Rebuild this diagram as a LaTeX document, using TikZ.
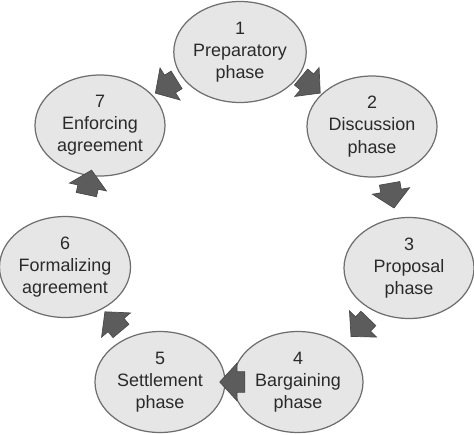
\documentclass[tikz,border=0pt]{standalone}
\usepackage{fontspec}
\setmainfont{Liberation Sans}
\usetikzlibrary{shapes.geometric,shapes.arrows}
\definecolor{phasefill}{HTML}{E6E6E6}
\definecolor{phaseline}{HTML}{6E6E6E}
\definecolor{flowfill}{HTML}{5C5C5C}
\definecolor{phasetext}{HTML}{2A2A2A}
\begin{document}
\begin{tikzpicture}[
        phase/.style = {draw=phaseline, line width=0.7pt, fill=phasefill, ellipse,
            minimum width=2.6cm, minimum height=2.02cm, inner sep=0pt,
            align=center, text=phasetext, font=\fontsize{10.2}{12.6}\selectfont},
        flow/.style = {single arrow, draw=flowfill!80!black, line width=0.4pt, fill=flowfill,
            minimum height=0.5cm, minimum width=0.74cm, inner xsep=0pt, inner ysep=0.2cm,
            single arrow head extend=0.17cm, single arrow tip angle=95}]
        \useasboundingbox (0,0) rectangle (9.48,8.68);
        % phases
        \node[phase] (p1) at (4.80,7.64) {1\\Preparatory\\phase};
        \node[phase] (p2) at (7.44,6.15) {2\\Discussion\\phase};
        \node[phase] (p3) at (8.18,3.32) {3\\Proposal\\phase};
        \node[phase] (p4) at (5.96,1.04) {4\\Bargaining\\phase};
        \node[phase] (p5) at (3.20,1.04) {5\\Settlement\\phase};
        \node[phase] (p6) at (1.30,3.34) {6\\Formalizing\\agreement};
        \node[phase] (p7) at (2.00,6.17) {7\\Enforcing\\agreement};
        % arrows
        \node[flow, rotate=-40] (a12) at (6.14,7.04) {};
        \node[flow, rotate=-80] (a23) at (7.82,4.86) {};
        \node[flow, rotate=226] (a34) at (7.26,2.20) {};
        \node[flow, rotate=180] (a45) at (4.74,1.04) {};
        \node[flow, rotate=130] (a56) at (2.32,2.18) {};
        \node[flow, rotate=78] (a67) at (1.76,4.94) {};
        \node[flow, rotate=212] (a17) at (3.40,7.00) {};
    \end{tikzpicture}
\end{document}
